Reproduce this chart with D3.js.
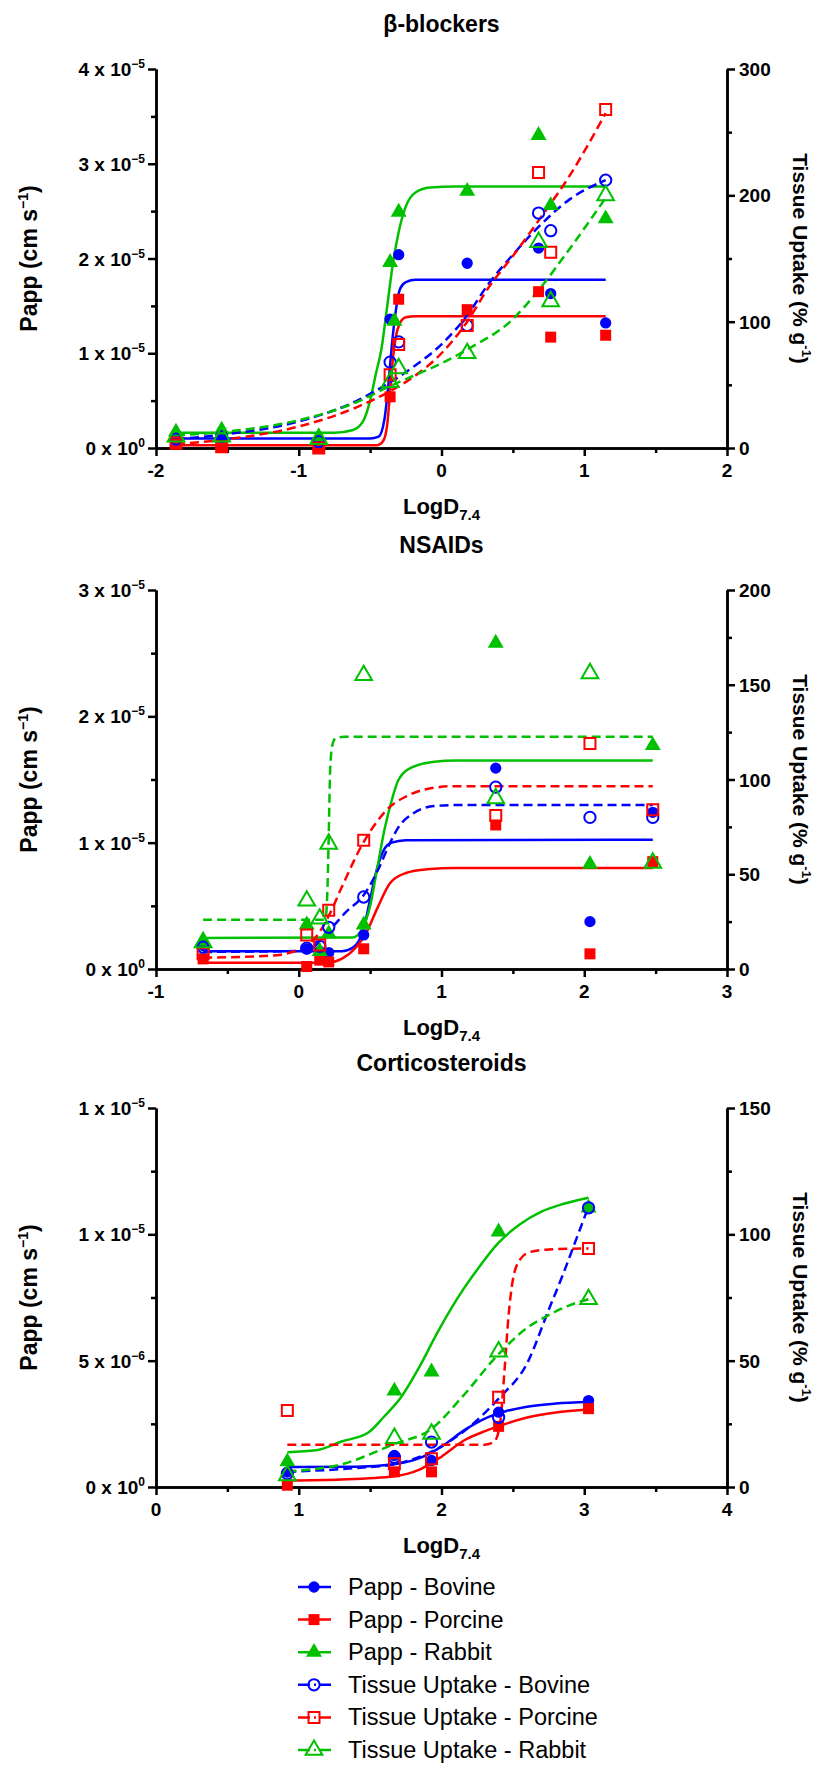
<!doctype html>
<html>

<head>
    <meta charset="utf-8">
    <title>Papp and tissue uptake vs LogD7.4</title>
    <script src="https://cdn.jsdelivr.net/npm/d3@7"></script>
    <style>
        body {
            margin: 0;
            background: #fff;
        }

        svg {
            font-family: "Liberation Sans", Arial, sans-serif;
        }

        .axis path,
        .axis line {
            stroke: #000;
            stroke-width: 2.5;
        }

        .axis text {
            display: none;
        }

        .lbl {
            font-weight: bold;
            font-size: 19px;
            fill: #000;
        }
    </style>
</head>

<body>
    <svg width="831" height="1767"></svg>
    <script>
        // ---- beta-blockers ----
        var bbLogD = [-1.86, -1.54, -0.86, -0.36, -0.33, -0.30, 0.18, 0.68, 0.765, 1.15];
        var bbPappBovine = [0.12e-5, 0.10e-5, 0.06e-5, 1.36e-5, null, 2.04e-5, 1.95e-5, 2.11e-5, 1.63e-5, 1.32e-5];
        var bbPappPorcine = [0.04e-5, 0.01e-5, 0.0, 0.54e-5, null, 1.57e-5, 1.46e-5, 1.65e-5, 1.17e-5, 1.19e-5];
        var bbPappRabbit = [0.17e-5, 0.19e-5, 0.12e-5, 1.96e-5, 1.34e-5, 2.49e-5, 2.71e-5, 3.30e-5, 2.56e-5, 2.42e-5];
        var bbTissueBovine = [7, 9, 5, 68, null, 84, 97, 186, 172, 212];
        var bbTissuePorcine = [4, 1, 0, 58, null, 82, 97, 218, 155, 268];
        var bbTissueRabbit = [9, 9, 7, 52, null, 63, 75, 163, 116, 200];

        var bbFitPappBovine = [[-1.86, 0.10e-5], [-0.50, 0.10e-5], [-0.44, 0.12e-5], [-0.40, 0.30e-5], [-0.37, 0.70e-5], [-0.35, 1.05e-5], [-0.32, 1.45e-5], [-0.29, 1.68e-5], [-0.25, 1.75e-5], [-0.18, 1.775e-5], [1.15, 1.775e-5]];
        var bbFitPappPorcine = [[-1.86, 0.03e-5], [-0.45, 0.03e-5], [-0.41, 0.07e-5], [-0.38, 0.25e-5], [-0.36, 0.60e-5], [-0.34, 0.95e-5], [-0.32, 1.17e-5], [-0.29, 1.32e-5], [-0.25, 1.38e-5], [-0.18, 1.39e-5], [1.15, 1.39e-5]];
        var bbFitPappRabbit = [[-1.86, 0.16e-5], [-0.75, 0.16e-5], [-0.62, 0.19e-5], [-0.55, 0.28e-5], [-0.50, 0.50e-5], [-0.46, 0.78e-5], [-0.42, 1.05e-5], [-0.38, 1.50e-5], [-0.34, 1.95e-5], [-0.30, 2.28e-5], [-0.25, 2.55e-5], [-0.18, 2.70e-5], [-0.08, 2.75e-5], [0.10, 2.76e-5], [1.15, 2.76e-5]];
        var bbFitTissueBovine = [[-1.86, 7], [-1.5, 11], [-1.0, 21], [-0.6, 37], [-0.36, 52], [-0.2, 64], [0, 82], [0.18, 105], [0.33, 130], [0.5, 153], [0.68, 175], [0.9, 197], [1.15, 212]];
        var bbFitTissuePorcine = [[-1.86, 3], [-1.5, 7], [-1.0, 17], [-0.6, 32], [-0.36, 45], [-0.2, 56], [0, 75], [0.18, 100], [0.33, 127], [0.5, 152], [0.68, 180], [0.9, 216], [1.15, 265]];
        var bbFitTissueRabbit = [[-1.86, 10], [-1.5, 13], [-1.0, 22], [-0.6, 36], [-0.36, 49], [-0.2, 57], [0, 67], [0.18, 78], [0.5, 102], [0.68, 125], [0.9, 158], [1.15, 198]];

        // ---- NSAIDs ----
        var nsLogD = [-0.67, 0.056, 0.147, 0.21, 0.455, 1.38, 2.04, 2.48];
        var nsPappBovine = [0.185e-5, 0.16e-5, 0.14e-5, 0.13e-5, 0.27e-5, 1.59e-5, 0.375e-5, 1.24e-5];
        var nsPappPorcine = [0.08e-5, 0.02e-5, 0.07e-5, 0.056e-5, 0.16e-5, 1.14e-5, 0.12e-5, 0.85e-5];
        var nsPappRabbit = [0.22e-5, 0.35e-5, 0.14e-5, 0.28e-5, 0.35e-5, 2.58e-5, 0.83e-5, 1.77e-5];
        var nsTissueBovine = [11.5, 11, 12, 22, 38, 96, 80, 80];
        var nsTissuePorcine = [8, 18, 12.7, 31, 68, 81, 119, 84];
        var nsTissueRabbit = [14, 36, 26.5, 66, 155, 90, 156, 56];

        var nsFitPappBovine = [[-0.67, 0.14e-5], [0.30, 0.14e-5], [0.38, 0.17e-5], [0.45, 0.30e-5], [0.50, 0.55e-5], [0.55, 0.80e-5], [0.60, 0.95e-5], [0.65, 1.0e-5], [0.75, 1.02e-5], [2.48, 1.023e-5]];
        var nsFitPappPorcine = [[-0.67, 0.05e-5], [0.20, 0.05e-5], [0.30, 0.08e-5], [0.40, 0.17e-5], [0.47, 0.28e-5], [0.55, 0.48e-5], [0.64, 0.68e-5], [0.75, 0.76e-5], [0.90, 0.79e-5], [1.10, 0.80e-5], [2.48, 0.80e-5]];
        var nsFitPappRabbit = [[-0.67, 0.246e-5], [0.38, 0.25e-5], [0.45, 0.33e-5], [0.50, 0.50e-5], [0.55, 0.80e-5], [0.60, 1.10e-5], [0.65, 1.33e-5], [0.70, 1.50e-5], [0.80, 1.60e-5], [0.95, 1.64e-5], [1.10, 1.65e-5], [2.48, 1.65e-5]];
        var nsFitTissueBovine = [[-0.67, 9], [0.0, 9.5], [0.09, 11], [0.21, 20], [0.33, 30], [0.455, 39], [0.56, 53], [0.63, 65], [0.7, 75], [0.8, 82], [0.95, 86], [1.1, 86.5], [2.48, 86.5]];
        var nsFitTissuePorcine = [[-0.67, 6], [-0.2, 7], [0.056, 12], [0.15, 20], [0.21, 28], [0.3, 43], [0.44, 65], [0.55, 78], [0.63, 85], [0.75, 91], [0.9, 95], [1.1, 96.5], [2.48, 96.5]];
        var nsFitTissueRabbit = [[-0.67, 26], [0.17, 26], [0.19, 28], [0.20, 40], [0.21, 70], [0.22, 105], [0.235, 118], [0.26, 122], [0.32, 122.5], [2.48, 122.5]];

        // ---- Corticosteroids ----
        var csLogD = [0.92, 1.67, 1.93, 2.40, 3.03];
        var csPappBovine = [0.59e-6, 1.25e-6, 1.05e-6, 2.96e-6, 3.42e-6];
        var csPappPorcine = [0.07e-6, 0.6e-6, 0.6e-6, 2.4e-6, 3.1e-6];
        var csPappRabbit = [1.0e-6, 3.8e-6, 4.56e-6, 10.1e-6, 11.05e-6];
        var csTissueBovine = [5.3, 11.8, 17.8, 27.6, 110.5];
        var csTissuePorcine = [30.3, 9.2, 11.2, 35.5, 94.4];
        var csTissueRabbit = [4.6, 19.3, 21, 53.6, 74.3];

        var csFitPappBovine = [[0.92, 0.79e-6], [1.4, 0.80e-6], [1.67, 0.90e-6], [1.85, 1.15e-6], [2.0, 1.6e-6], [2.16, 2.25e-6], [2.3, 2.7e-6], [2.45, 3.0e-6], [2.6, 3.18e-6], [2.8, 3.3e-6], [3.03, 3.36e-6]];
        var csFitPappPorcine = [[0.92, 0.26e-6], [1.3, 0.30e-6], [1.67, 0.43e-6], [1.85, 0.7e-6], [2.0, 1.2e-6], [2.16, 1.85e-6], [2.3, 2.2e-6], [2.45, 2.5e-6], [2.6, 2.75e-6], [2.8, 2.95e-6], [3.03, 3.07e-6]];
        var csFitPappRabbit = [[0.92, 1.38e-6], [1.12, 1.45e-6], [1.3, 1.8e-6], [1.49, 2.17e-6], [1.6, 2.8e-6], [1.71, 3.5e-6], [1.85, 4.8e-6], [1.97, 6.1e-6], [2.15, 7.8e-6], [2.25, 8.6e-6], [2.4, 9.67e-6], [2.55, 10.4e-6], [2.7, 10.9e-6], [2.85, 11.2e-6], [3.03, 11.45e-6]];
        var csFitTissueBovine = [[0.92, 6], [1.4, 7.5], [1.67, 9], [1.93, 14], [2.2, 24], [2.4, 35], [2.6, 49], [2.75, 70], [2.85, 84], [2.95, 99], [3.03, 111]];
        var csFitTissuePorcine = [[0.92, 16.7], [2.3, 16.7], [2.37, 18], [2.41, 25], [2.44, 45], [2.47, 68], [2.5, 82], [2.55, 90], [2.62, 93], [2.75, 94], [3.03, 94.4]];
        var csFitTissueRabbit = [[0.92, 6.2], [1.3, 9], [1.67, 17], [1.93, 23], [2.15, 36], [2.4, 52.6], [2.6, 63], [2.75, 68], [2.9, 72], [3.03, 74.3]];

        // ---- axes / legend ----
        var panelTitles = ["β-blockers", "NSAIDs", "Corticosteroids"];
        var xDomains = [[-2, 2], [-1, 3], [0, 4]];
        var leftMax = [4e-5, 3e-5, 1.5e-5];
        var leftTicks = [[0, 1e-5, 2e-5, 3e-5, 4e-5], [0, 1e-5, 2e-5, 3e-5], [0, 5e-6, 1e-5, 1.5e-5]];
        var leftMant = [["0", "1", "2", "3", "4"], ["0", "1", "2", "3"], ["0", "5", "1", "1"]];
        var leftExp = [["0", "−5", "−5", "−5", "−5"], ["0", "−5", "−5", "−5"], ["0", "−6", "−5", "−5"]];
        var leftMinor = [[0.5e-5, 1.5e-5, 2.5e-5, 3.5e-5], [0.5e-5, 1.5e-5, 2.5e-5], [2.5e-6, 7.5e-6, 1.25e-5]];
        var rightMax = [300, 200, 150];
        var rightTicks = [[0, 100, 200, 300], [0, 50, 100, 150, 200], [0, 50, 100, 150]];
        var rightMinor = [[50, 150, 250], [25, 75, 125, 175], [25, 75, 125]];
        var seriesNames = ["Papp - Bovine", "Papp - Porcine", "Papp - Rabbit",
            "Tissue Uptake - Bovine", "Tissue Uptake - Porcine", "Tissue Uptake - Rabbit"];
        var seriesColors = ["#0000ff", "#ff0000", "#00c000", "#0000ff", "#ff0000", "#00c000"];

        var panels = [
            {
                x: bbLogD, y: [bbPappBovine, bbPappPorcine, bbPappRabbit, bbTissueBovine, bbTissuePorcine, bbTissueRabbit],
                fits: [bbFitPappBovine, bbFitPappPorcine, bbFitPappRabbit, bbFitTissueBovine, bbFitTissuePorcine, bbFitTissueRabbit]
            },
            {
                x: nsLogD, y: [nsPappBovine, nsPappPorcine, nsPappRabbit, nsTissueBovine, nsTissuePorcine, nsTissueRabbit],
                fits: [nsFitPappBovine, nsFitPappPorcine, nsFitPappRabbit, nsFitTissueBovine, nsFitTissuePorcine, nsFitTissueRabbit]
            },
            {
                x: csLogD, y: [csPappBovine, csPappPorcine, csPappRabbit, csTissueBovine, csTissuePorcine, csTissueRabbit],
                fits: [csFitPappBovine, csFitPappPorcine, csFitPappRabbit, csFitTissueBovine, csFitTissuePorcine, csFitTissueRabbit]
            }
        ];

        var svg = d3.select("svg"),
            plotLeft = 156,
            plotRight = 727,
            plotHeight = 379,
            tops = [69, 590, 1108];

        var symbolTypes = [d3.symbolCircle, d3.symbolSquare, d3.symbolTriangle,
            d3.symbolCircle, d3.symbolSquare, d3.symbolTriangle];
        var symbolSizes = [100, 121, 110, 100, 121, 120];

        function drawMarker(g, i, cx, cy) {
            var open = i >= 3;
            g.append("path")
                .attr("d", d3.symbol().type(symbolTypes[i]).size(symbolSizes[i])())
                .attr("transform", "translate(" + cx + "," + cy + ")")
                .attr("fill", open ? "none" : seriesColors[i])
                .attr("stroke", seriesColors[i])
                .attr("stroke-width", open ? 2 : 0);
        }

        panels.forEach(function (p, k) {
            var top = tops[k],
                bottom = top + plotHeight,
                midX = (plotLeft + plotRight) / 2;

            var x = d3.scaleLinear().domain(xDomains[k]).range([plotLeft, plotRight]);
            var yL = d3.scaleLinear().domain([0, leftMax[k]]).range([bottom, top]);
            var yR = d3.scaleLinear().domain([0, rightMax[k]]).range([bottom, top]);
            var xMajor = d3.range(xDomains[k][0], xDomains[k][1] + 0.01, 1);
            var xMinor = d3.range(xDomains[k][0] + 0.5, xDomains[k][1], 1);

            var g = svg.append("g");

            // title
            g.append("text")
                .attr("x", midX).attr("y", top - 37)
                .attr("text-anchor", "middle")
                .attr("font-size", 23).attr("font-weight", "bold")
                .text(panelTitles[k]);

            // axes: minor then major
            g.append("g").attr("class", "axis")
                .attr("transform", "translate(0," + bottom + ")")
                .call(d3.axisBottom(x).tickValues(xMinor).tickSize(5).tickSizeOuter(0));
            g.append("g").attr("class", "axis")
                .attr("transform", "translate(0," + bottom + ")")
                .call(d3.axisBottom(x).tickValues(xMajor).tickSize(8).tickSizeOuter(0));
            g.append("g").attr("class", "axis")
                .attr("transform", "translate(" + plotLeft + ",0)")
                .call(d3.axisLeft(yL).tickValues(leftMinor[k]).tickSize(5).tickSizeOuter(0));
            g.append("g").attr("class", "axis")
                .attr("transform", "translate(" + plotLeft + ",0)")
                .call(d3.axisLeft(yL).tickValues(leftTicks[k]).tickSize(8).tickSizeOuter(0));
            g.append("g").attr("class", "axis")
                .attr("transform", "translate(" + plotRight + ",0)")
                .call(d3.axisRight(yR).tickValues(rightMinor[k]).tickSize(5).tickSizeOuter(0));
            g.append("g").attr("class", "axis")
                .attr("transform", "translate(" + plotRight + ",0)")
                .call(d3.axisRight(yR).tickValues(rightTicks[k]).tickSize(8).tickSizeOuter(0));

            // tick labels
            xMajor.forEach(function (v) {
                g.append("text").attr("class", "lbl")
                    .attr("x", x(v)).attr("y", bottom + 29)
                    .attr("text-anchor", "middle")
                    .text(v < 0 ? "-" + Math.abs(v) : v);
            });
            leftTicks[k].forEach(function (v, j) {
                var t = g.append("text").attr("class", "lbl")
                    .attr("x", plotLeft - 11).attr("y", yL(v) + 7)
                    .attr("text-anchor", "end");
                t.append("tspan").text(leftMant[k][j] + " x 10");
                t.append("tspan").attr("font-size", 12).attr("dy", -8).text(leftExp[k][j]);
            });
            rightTicks[k].forEach(function (v) {
                g.append("text").attr("class", "lbl")
                    .attr("x", plotRight + 12).attr("y", yR(v) + 7)
                    .text(v);
            });

            // x axis title
            var xt = g.append("text")
                .attr("x", midX).attr("y", bottom + 66)
                .attr("text-anchor", "middle")
                .attr("font-size", 22).attr("font-weight", "bold");
            xt.append("tspan").text("LogD");
            xt.append("tspan").attr("font-size", 15).attr("dy", 6).text("7.4");

            // left title
            var lt = g.append("text")
                .attr("transform", "translate(37," + (top + bottom) / 2 + ") rotate(-90)")
                .attr("text-anchor", "middle")
                .attr("font-size", 23).attr("font-weight", "bold");
            lt.append("tspan").text("Papp (cm s");
            lt.append("tspan").attr("font-size", 14).attr("dy", -9).text("−1");
            lt.append("tspan").attr("dy", 9).text(")");

            // right title
            var rt = g.append("text")
                .attr("transform", "translate(793," + (top + bottom) / 2 + ") rotate(90)")
                .attr("text-anchor", "middle")
                .attr("font-size", 21).attr("font-weight", "bold");
            rt.append("tspan").text("Tissue Uptake (% g");
            rt.append("tspan").attr("font-size", 13).attr("dy", -9).text("-1");
            rt.append("tspan").attr("dy", 9).text(")");

            // fitted curves
            p.fits.forEach(function (pts, i) {
                var yS = i < 3 ? yL : yR;
                var line = d3.line()
                    .x(function (d) { return x(d[0]); })
                    .y(function (d) { return yS(d[1]); })
                    .curve(d3.curveMonotoneX);
                g.append("path")
                    .datum(pts)
                    .attr("d", line)
                    .attr("fill", "none")
                    .attr("stroke", seriesColors[i])
                    .attr("stroke-width", 2.5)
                    .attr("stroke-dasharray", i < 3 ? null : "9,5");
            });

            // data points
            p.y.forEach(function (vals, i) {
                var yS = i < 3 ? yL : yR;
                vals.forEach(function (v, j) {
                    if (v === null) return;
                    drawMarker(g, i, x(p.x[j]), yS(v));
                });
            });
        });

        // legend
        var lg = svg.append("g");
        seriesNames.forEach(function (name, i) {
            var cy = 1587 + i * 32.6;
            lg.append("line")
                .attr("x1", 298).attr("x2", 331)
                .attr("y1", cy).attr("y2", cy)
                .attr("stroke", seriesColors[i])
                .attr("stroke-width", 2.5)
                .attr("stroke-dasharray", i < 3 ? null : "12,4,2,4");
            drawMarker(lg, i, 314, cy);
            lg.append("text")
                .attr("x", 348).attr("y", cy + 8)
                .attr("font-size", 23.5)
                .text(name);
        });
    </script>
</body>

</html>
